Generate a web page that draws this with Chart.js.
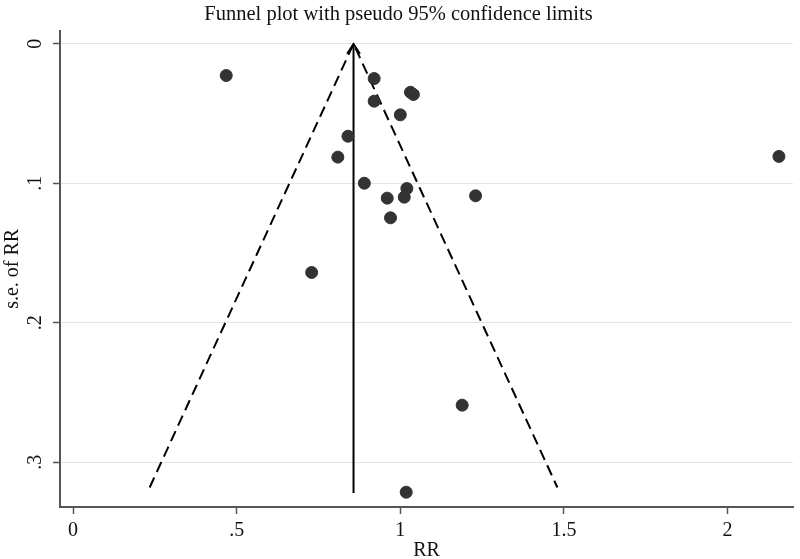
<!DOCTYPE html>
<html>
<head>
<meta charset="utf-8">
<script src="https://cdn.jsdelivr.net/npm/chart.js@4.4.1/dist/chart.umd.min.js"></script>
<style>
  body { margin: 0; background: #fff; }
  canvas { display: block; }
</style>
</head>
<body>
<canvas id="funnel" width="800" height="559"></canvas>
<script>
// study estimates
const rr = [0.468, 0.920, 1.031, 1.040, 0.920, 1.000, 0.840, 0.809, 2.157, 0.890,
            1.020, 1.012, 0.960, 1.230, 0.970, 0.729, 1.189, 1.018];
const se = [0.0227, 0.0249, 0.0347, 0.0363, 0.0411, 0.0509, 0.0662, 0.0812, 0.0807, 0.0999,
            0.1037, 0.1099, 0.1106, 0.1089, 0.1247, 0.1639, 0.259, 0.3214];

// pseudo 95% limits and pooled estimate
const funnelRR = [0.234, 0.857, 1.480];
const funnelSE = [0.318, 0, 0.318];
const pooledRR = [0.857, 0.857];
const pooledSE = [0, 0.322];

const xTicks = [0, 0.5, 1, 1.5, 2];
const xTickLabels = ['0', '.5', '1', '1.5', '2'];
const yTicks = [0, 0.1, 0.2, 0.3];
const yTickLabels = ['0', '.1', '.2', '.3'];

const SERIF = "'Liberation Serif', 'DejaVu Serif', serif";
const AXIS = '#555';

const toPoints = (xs, ys) => xs.map((v, i) => ({ x: v, y: ys[i] }));

// open arrow head on top of the pooled line
const arrowHead = {
    id: 'arrowHead',
    afterDatasetsDraw(chart) {
        const ctx = chart.ctx;
        const px = chart.scales.x.getPixelForValue(pooledRR[0]);
        const py = chart.scales.y.getPixelForValue(pooledSE[0]);
        ctx.save();
        ctx.strokeStyle = '#000';
        ctx.lineWidth = 1.8;
        ctx.beginPath();
        ctx.moveTo(px - 6.5, py + 10);
        ctx.lineTo(px, py);
        ctx.lineTo(px + 6.5, py + 10);
        ctx.stroke();
        ctx.restore();
    }
};

new Chart(document.getElementById('funnel').getContext('2d'), {
    type: 'scatter',
    data: {
        datasets: [
            {
                label: 'studies',
                data: toPoints(rr, se),
                backgroundColor: '#333',
                borderColor: '#333',
                pointRadius: 6,
                order: 0
            },
            {
                label: 'limits',
                data: toPoints(funnelRR, funnelSE),
                showLine: true,
                borderColor: '#000',
                borderWidth: 2,
                borderDash: [11, 6],
                pointRadius: 0,
                order: 1
            },
            {
                label: 'pooled',
                data: toPoints(pooledRR, pooledSE),
                showLine: true,
                borderColor: '#000',
                borderWidth: 2,
                pointRadius: 0,
                order: 1
            }
        ]
    },
    options: {
        responsive: false,
        animation: false,
        layout: { padding: { left: 0, right: 3, top: 0, bottom: 0 } },
        plugins: {
            legend: { display: false },
            tooltip: { enabled: false },
            title: {
                display: true,
                text: 'Funnel plot with pseudo 95% confidence limits',
                color: '#111',
                font: { family: SERIF, size: 20.5, weight: 'normal' },
                padding: { top: 2, bottom: 4 }
            }
        },
        scales: {
            x: {
                type: 'linear',
                min: -0.04,
                max: 2.2,
                afterBuildTicks: (s) => { s.ticks = xTicks.map(v => ({ value: v })); },
                afterFit: (s) => { s.height = 52; s.paddingLeft = 0; s.paddingRight = 0; },
                ticks: {
                    color: '#111',
                    padding: 5,
                    font: { family: SERIF, size: 20 },
                    callback: (v) => xTickLabels[xTicks.indexOf(v)]
                },
                grid: { drawOnChartArea: false, tickLength: 7, tickColor: AXIS, tickWidth: 1.5 },
                border: { color: AXIS, width: 2 },
                title: {
                    display: true,
                    text: 'RR',
                    color: '#111',
                    font: { family: SERIF, size: 20 },
                    padding: { top: 0, bottom: -4 }
                }
            },
            y: {
                type: 'linear',
                reverse: true,
                min: -0.0095,
                max: 0.332,
                afterBuildTicks: (s) => { s.ticks = yTicks.map(v => ({ value: v })); },
                afterFit: (s) => { s.width = 60; s.paddingTop = 0; s.paddingBottom = 0; },
                ticks: {
                    color: '#111',
                    padding: 10,
                    minRotation: 90,
                    maxRotation: 90,
                    crossAlign: 'center',
                    font: { family: SERIF, size: 20 },
                    callback: (v) => yTickLabels[yTicks.indexOf(v)]
                },
                grid: { color: '#e4e4e4', lineWidth: 1, tickLength: 7, tickColor: AXIS, tickWidth: 1.5 },
                border: { color: AXIS, width: 2 },
                title: {
                    display: true,
                    text: 's.e. of RR',
                    color: '#111',
                    font: { family: SERIF, size: 20 },
                    padding: { top: 1, bottom: 0 }
                }
            }
        }
    },
    plugins: [arrowHead]
});
</script>
</body>
</html>
